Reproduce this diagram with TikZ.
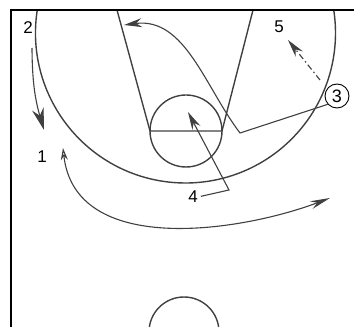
\documentclass[tikz,border=0pt]{standalone}
\usepackage{fontspec}
\setmainfont{Liberation Sans}
\usetikzlibrary{arrows.meta}

\begin{document}
\begin{tikzpicture}[x=1pt, y=1pt, >={Stealth[length=18pt, width=9pt]},
    court/.style={draw=black!75, line width=1.4pt},
    cut/.style={draw=black!75, line width=1.1pt, ->},
    pass/.style={cut, dash pattern=on 6pt off 3pt on 1.5pt off 3pt},
    player/.style={font=\fontsize{17}{17}\selectfont, inner sep=0pt}]
    \useasboundingbox (0,0) rectangle (354,327);

    % Court lines
    \begin{scope}
        \clip (11,0) rectangle (354,317);
        \draw[court] (185.5,294) ++(170:150) arc (170:370:150);
        \draw[court] (117,317) -- (150,196) -- (222,196) -- (253,317);
        \draw[court] (186,196) circle (36);
        \draw[court] (184,-5) circle (35);
    \end{scope}

    % Sideline and baseline
    \draw[line width=2pt] (11,0) -- (11,317) -- (354,317);

    % Players
    \node[player] (p2) at (28,299) {2};
    \node[player] (p1) at (42,170) {1};
    \node[player] (p5) at (279,300) {5};
    \node[player] (p4) at (193,130) {4};
    \node[player, draw, circle, minimum size=24pt, line width=0.9pt,
          font=\fontsize{18}{18}\selectfont] (p3) at (337,231) {3};

    % Free ends of the moves
    \coordinate (c2a) at (32,279);
    \coordinate (c2b) at (44,197);
    \coordinate (c1a) at (63,179);
    \coordinate (c1b) at (330,129);
    \coordinate (c3a) at (240,194);
    \coordinate (c3b) at (124,302);
    \coordinate (c5a) at (320,247);
    \coordinate (c5b) at (288,287);
    \coordinate (c4b) at (229,137);
    \coordinate (c4c) at (188,215);

    % Moves
    \draw[cut, -{Stealth[length=22pt, width=12pt]}] (c2a) to[bend right=8] (c2b);
    \draw[cut, {Stealth[length=12pt, width=7pt, open]}-{Stealth[length=20pt, width=8pt]}]
        (c1a) .. controls (75,70) and (240,95) .. (c1b);
    \draw[cut] (p3.222) -- (c3a) .. controls (205,240) and (185,310) .. (c3b);
    \draw[pass] (c5a) -- (c5b);
    \draw[cut, shorten <=3pt] (p4.east) -- (c4b) -- (c4c);
\end{tikzpicture}
\end{document}
